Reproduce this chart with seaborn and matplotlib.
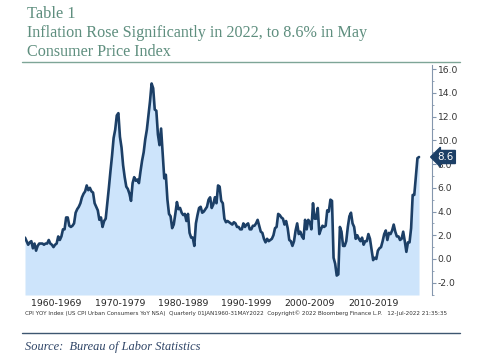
import numpy as np
import pandas as pd
import matplotlib
matplotlib.use('Agg')
import matplotlib.pyplot as plt
import seaborn as sns

# CPI YoY, quarterly, 1960Q1 .. 2022Q2 (last point = May 2022)
cpi = [
    1.8, 1.5, 1.2, 1.4,   # 1960
    1.5, 0.9, 1.3, 0.7,   # 1961
    1.1, 1.3, 1.3, 1.3,   # 1962
    1.2, 1.3, 1.3, 1.6,   # 1963
    1.3, 1.2, 1.0, 1.2,   # 1964
    1.3, 1.9, 1.6, 1.9,   # 1965
    2.5, 2.5, 3.5, 3.5,   # 1966
    2.8, 2.7, 2.8, 3.0,   # 1967
    3.9, 4.2, 4.4, 4.7,   # 1968
    5.2, 5.5, 5.7, 6.2,   # 1969
    5.8, 6.0, 5.7, 5.6,   # 1970
    4.7, 4.4, 4.1, 3.3,   # 1971
    3.5, 2.7, 3.2, 3.4,   # 1972
    4.7, 6.0, 7.4, 8.7,   # 1973
    10.2, 10.9, 12.1, 12.3,  # 1974
    10.3, 9.4, 7.9, 6.9,  # 1975
    6.1, 5.9, 5.5, 4.9,   # 1976
    6.4, 6.9, 6.6, 6.7,   # 1977
    6.4, 7.4, 8.3, 9.0,   # 1978
    10.1, 10.9, 12.1, 13.3,  # 1979
    14.8, 14.4, 12.6, 12.5,  # 1980
    10.5, 9.6, 11.0, 8.9,  # 1981
    6.8, 7.1, 5.0, 3.8,   # 1982
    3.6, 2.6, 2.9, 3.8,   # 1983
    4.8, 4.2, 4.3, 3.9,   # 1984
    3.7, 3.8, 3.2, 3.8,   # 1985
    2.2, 1.8, 1.8, 1.1,   # 1986
    3.0, 3.7, 4.3, 4.4,   # 1987
    3.9, 4.0, 4.2, 4.4,   # 1988
    5.0, 5.2, 4.3, 4.6,   # 1989
    5.2, 4.7, 6.2, 6.1,   # 1990
    4.9, 4.7, 3.4, 3.1,   # 1991
    3.2, 3.1, 3.0, 2.9,   # 1992
    3.1, 3.0, 2.7, 2.7,   # 1993
    2.5, 2.5, 3.0, 2.7,   # 1994
    2.9, 3.0, 2.5, 2.5,   # 1995
    2.8, 2.8, 3.0, 3.3,   # 1996
    2.8, 2.3, 2.2, 1.7,   # 1997
    1.4, 1.7, 1.5, 1.6,   # 1998
    1.7, 2.0, 2.6, 2.7,   # 1999
    3.8, 3.7, 3.5, 3.4,   # 2000
    2.9, 3.2, 2.6, 1.6,   # 2001
    1.5, 1.1, 1.5, 2.4,   # 2002
    3.0, 2.1, 2.3, 1.9,   # 2003
    1.7, 3.3, 2.5, 3.3,   # 2004
    3.1, 2.5, 4.7, 3.4,   # 2005
    3.4, 4.3, 2.1, 2.5,   # 2006
    2.8, 2.7, 2.8, 4.1,   # 2007
    4.0, 5.0, 4.9, 0.1,   # 2008
    -0.4, -1.4, -1.3, 2.7,  # 2009
    2.3, 1.1, 1.1, 1.5,   # 2010
    2.7, 3.6, 3.9, 3.0,   # 2011
    2.7, 1.7, 2.0, 1.7,   # 2012
    1.5, 1.8, 1.2, 1.5,   # 2013
    1.5, 2.1, 1.7, 0.8,   # 2014
    -0.1, 0.1, 0.0, 0.7,  # 2015
    0.9, 1.0, 1.5, 2.1,   # 2016
    2.4, 1.6, 2.2, 2.1,   # 2017
    2.4, 2.9, 2.3, 1.9,   # 2018
    1.9, 1.6, 1.7, 2.3,   # 2019
    1.5, 0.6, 1.4, 1.4,   # 2020
    2.6, 5.4, 5.4, 7.0,   # 2021
    8.5, 8.6,             # 2022 (Mar, May)
]
decade_labels = ['1960-1969', '1970-1979', '1980-1989', '1990-1999', '2000-2009', '2010-2019']
decade_mid = [1965, 1975, 1985, 1995, 2005, 2015]
y_ticks = [-2, 0, 2, 4, 6, 8, 10, 12, 14, 16]
last_value = 8.6

periods = pd.period_range('1960Q1', periods=len(cpi), freq='Q')
df = pd.DataFrame({'t': periods.year + (periods.quarter - 1) / 4.0, 'cpi': cpi})

sns.set_style('white')
plt.rcParams['font.family'] = ['DejaVu Sans']

line_col = '#1c3f66'
fill_col = '#cde4fb'
title_col = '#5e8e7e'
axis_col = '#8496ad'

fig = plt.figure(figsize=(4.8, 3.57), dpi=100)
ax = fig.add_axes([25 / 480, 1 - 295 / 357, (432 - 25) / 480, (295 - 65) / 357])

ax.fill_between(df['t'], df['cpi'], -3.04, color=fill_col, lw=0)
sns.lineplot(data=df, x='t', y='cpi', ax=ax, color=line_col, lw=1.9)

ax.set_xlim(1960, 2024.3)
ax.set_ylim(-3.04, 16.36)
ax.set_xlabel('')
ax.set_ylabel('')

for s in ['left', 'top', 'bottom']:
    ax.spines[s].set_visible(False)
ax.spines['right'].set_color(axis_col)
ax.spines['right'].set_linewidth(0.8)
ax.yaxis.tick_right()
ax.set_yticks(y_ticks)
ax.set_yticklabels([f'{v:.1f}' for v in y_ticks])
ax.set_yticks(np.arange(-3, 17, 1), minor=True)
ax.tick_params(axis='y', which='major', right=True, length=3, width=0.8, color=axis_col,
               labelsize=6.6, labelcolor='#333333', pad=1)
ax.tick_params(axis='y', which='minor', right=True, length=1.5, width=0.6, color=axis_col)
ax.set_xticks(decade_mid)
ax.set_xticklabels(decade_labels)
ax.tick_params(axis='x', length=0, labelsize=6.7, labelcolor='#222222', pad=3)

# last value tag
ax.annotate(f'{last_value}', xy=(1.0, last_value), xycoords=('axes fraction', 'data'),
            xytext=(4, 0), textcoords='offset points', va='center', ha='left',
            color='white', fontsize=7.4,
            bbox=dict(boxstyle='larrow,pad=0.15', fc=line_col, ec=line_col))

# titles
serif = ['Liberation Serif', 'DejaVu Serif']
fig.text(27 / 480, 1 - 18 / 357, 'Table 1', family=serif, fontsize=11.8, color=title_col, va='baseline')
fig.text(27 / 480, 1 - 37 / 357, 'Inflation Rose Significantly in 2022, to 8.6% in May', family=serif,
         fontsize=11.6, color=title_col, va='baseline')
fig.text(27 / 480, 1 - 56 / 357, 'Consumer Price Index', family=serif, fontsize=11.6, color=title_col,
         va='baseline')
fig.add_artist(plt.Line2D([22 / 480, 460 / 480], [1 - 62 / 357, 1 - 62 / 357], color='#7ea597', lw=1.0))

fig.text(25 / 480, 1 - 313 / 357,
         'CPI YOY Index (US CPI Urban Consumers YoY NSA)  Quarterly 01JAN1960-31MAY2022  '
         'Copyright\u00a9 2022 Bloomberg Finance L.P.   12-Jul-2022 21:35:35',
         fontsize=4.05, color='#333333', va='center')

fig.add_artist(plt.Line2D([22 / 480, 460 / 480], [1 - 333 / 357, 1 - 333 / 357], color='#3d5670', lw=1.0))
fig.text(25 / 480, 1 - 350 / 357, 'Source:  Bureau of Labor Statistics', family=serif, style='italic',
         fontsize=8.9, color='#2e4466', va='baseline')

fig.savefig('out.png', dpi=100)
